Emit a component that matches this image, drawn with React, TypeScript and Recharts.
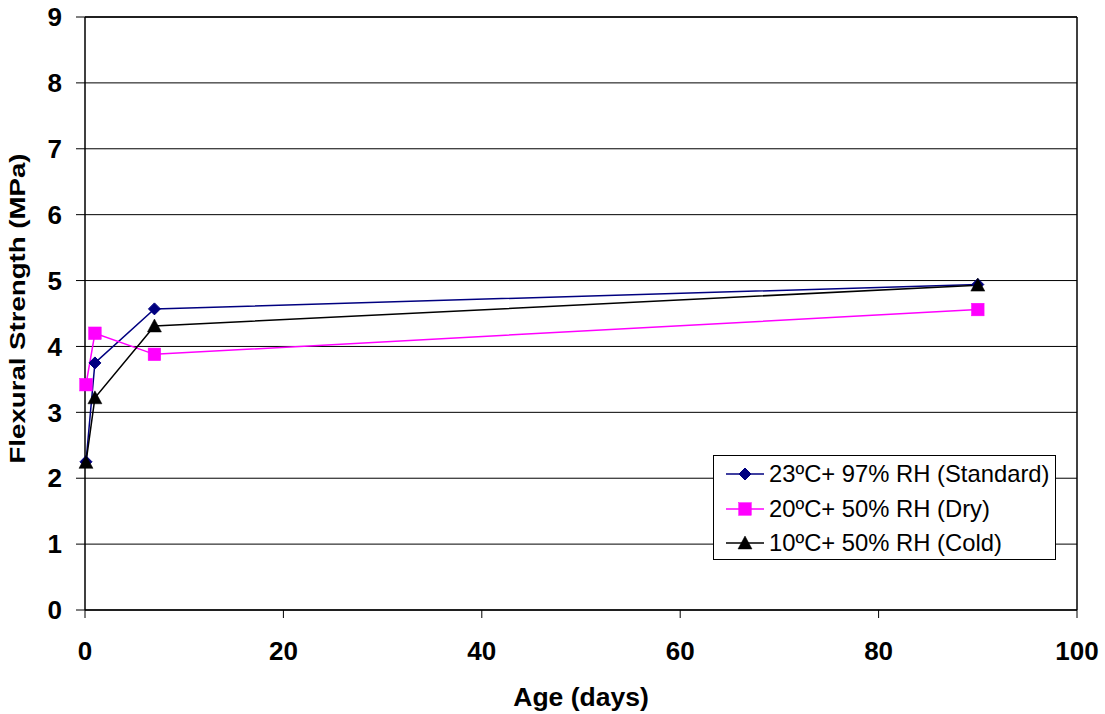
import React from 'react';
import { LineChart, Line, XAxis, YAxis, CartesianGrid, ReferenceLine, Legend, Label } from 'recharts';

const ages = [0.1, 1, 7, 90];
const standardValues = [2.25, 3.75, 4.57, 4.94];
const dryValues = [3.42, 4.2, 3.88, 4.56];
const coldValues = [2.24, 3.22, 4.31, 4.93];
const xTicks = [0, 20, 40, 60, 80, 100];
const yTicks = [0, 1, 2, 3, 4, 5, 6, 7, 8, 9];
const seriesNames = ['23ºC+ 97% RH (Standard)', '20ºC+ 50% RH (Dry)', '10ºC+ 50% RH (Cold)'];
const xTitle = 'Age (days)';
const yTitle = 'Flexural Strength (MPa)';

const data = ages.map((a, i) => ({
  age: a,
  standard: standardValues[i],
  dry: dryValues[i],
  cold: coldValues[i],
}));

const NAVY = '#000080';
const MAGENTA = '#FF00FF';
const BLACK = '#000000';
const FONT = '"Liberation Sans", Arial, sans-serif';

const Diamond = ({ cx, cy, s = 6 }: any) => (
  <path d={`M${cx},${cy - s}L${cx + s},${cy}L${cx},${cy + s}L${cx - s},${cy}Z`} fill={NAVY} stroke={NAVY} strokeWidth={1} />
);
const Square = ({ cx, cy, s = 6.3 }: any) => (
  <rect x={cx - s} y={cy - s} width={2 * s} height={2 * s} fill={MAGENTA} stroke={MAGENTA} strokeWidth={0.5} />
);
const Triangle = ({ cx, cy, s = 7 }: any) => (
  <path d={`M${cx},${cy - s}L${cx + s},${cy + s * 0.85}L${cx - s},${cy + s * 0.85}Z`} fill={BLACK} stroke={BLACK} strokeWidth={0.5} />
);

const markers = [Diamond, Square, Triangle];
const colors = [NAVY, MAGENTA, BLACK];

const LegendBox = () => (
  <div
    style={{
      width: 341,
      height: 102,
      border: '1px solid #000',
      background: '#fff',
      fontFamily: FONT,
      fontSize: 23.8,
      color: '#000',
      boxSizing: 'content-box',
      paddingTop: 1,
    }}
  >
    {seriesNames.map((name, i) => {
      const M = markers[i];
      return (
        <div key={name} style={{ height: 34.5, display: 'flex', alignItems: 'center' }}>
          <svg width={55} height={20} style={{ flex: 'none' }}>
            <line x1={12} y1={10} x2={50} y2={10} stroke={colors[i]} strokeWidth={1.5} />
            <M cx={31} cy={10} />
          </svg>
          <span style={{ whiteSpace: 'nowrap' }}>{name}</span>
        </div>
      );
    })}
  </div>
);

const XTitle = (props: any) => {
  const vb = props.viewBox;
  return (
    <text x={vb.x + vb.width / 2} y={706} textAnchor="middle" fontFamily={FONT} fontWeight="bold" fontSize={26.5} fill="#000">
      {xTitle}
    </text>
  );
};

const YTitle = (props: any) => {
  const vb = props.viewBox;
  const cy = vb.y + vb.height / 2 - 5;
  return (
    <text
      x={25}
      y={cy}
      transform={`rotate(-90, 25, ${cy})`}
      textAnchor="middle"
      fontFamily={FONT}
      fontWeight="bold"
      fontSize={21.5}
      textLength={310}
      lengthAdjust="spacingAndGlyphs"
      fill="#000"
    >
      {yTitle}
    </text>
  );
};

export default function App() {
  return (
    <div style={{ position: 'absolute', left: 0, top: 0, width: 1105, height: 714, background: '#fff' }}>
      <LineChart width={1105} height={714} data={data} margin={{ top: 17, right: 28, left: 0, bottom: 0 }}>
        <CartesianGrid horizontal vertical={false} stroke="#000" strokeWidth={1} strokeOpacity={1} />
        <XAxis
          dataKey="age"
          type="number"
          domain={[0, 100]}
          ticks={xTicks}
          interval={0}
          height={104}
          tickSize={8}
          tickMargin={24}
          stroke="#000"
          tick={{ fill: '#000', fontFamily: FONT, fontWeight: 'bold', fontSize: 26 }}
          tickLine={{ stroke: '#000' }}
          axisLine={{ stroke: '#000', strokeWidth: 1.5 }}
        >
          <Label content={<XTitle />} />
        </XAxis>
        <YAxis
          type="number"
          domain={[0, 9]}
          ticks={yTicks}
          interval={0}
          width={85}
          tickSize={9}
          tickMargin={14}
          stroke="#000"
          tick={{ fill: '#000', fontFamily: FONT, fontWeight: 'bold', fontSize: 26 }}
          tickLine={{ stroke: '#000' }}
          axisLine={{ stroke: '#000', strokeWidth: 1.5 }}
        >
          <Label content={<YTitle />} />
        </YAxis>
        <ReferenceLine x={100} stroke="#000" strokeWidth={1.5} ifOverflow="extendDomain" />
        <ReferenceLine y={9} stroke="#000" strokeWidth={1.5} />
        <Line
          type="linear"
          dataKey="standard"
          name={seriesNames[0]}
          stroke={NAVY}
          strokeWidth={1.5}
          isAnimationActive={false}
          dot={(p: any) => <Diamond key={`d${p.index}`} cx={p.cx} cy={p.cy} />}
          activeDot={false}
        />
        <Line
          type="linear"
          dataKey="dry"
          name={seriesNames[1]}
          stroke={MAGENTA}
          strokeWidth={1.5}
          isAnimationActive={false}
          dot={(p: any) => <Square key={`s${p.index}`} cx={p.cx} cy={p.cy} />}
          activeDot={false}
        />
        <Line
          type="linear"
          dataKey="cold"
          name={seriesNames[2]}
          stroke={BLACK}
          strokeWidth={1.5}
          isAnimationActive={false}
          dot={(p: any) => <Triangle key={`t${p.index}`} cx={p.cx} cy={p.cy} />}
          activeDot={false}
        />
        <Legend
          layout="horizontal"
          verticalAlign="middle"
          align="center"
          wrapperStyle={{ left: 713, top: 455, width: 343, height: 104 }}
          content={<LegendBox />}
        />
      </LineChart>
    </div>
  );
}
